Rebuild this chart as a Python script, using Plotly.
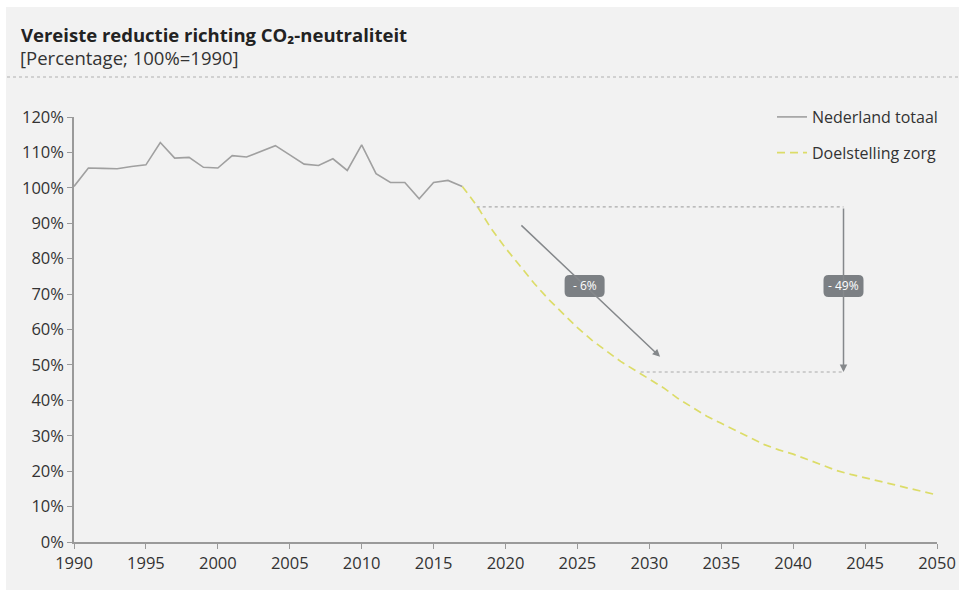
import plotly.graph_objects as go

years_hist = list(range(1990, 2018))
nl_totaal = [100.4, 105.6, 105.5, 105.4, 106.0, 106.5, 112.8, 108.4, 108.6, 105.8,
             105.6, 109.1, 108.7, 110.3, 111.9, 109.3, 106.7, 106.3, 108.2, 104.9,
             112.1, 104.0, 101.5, 101.5, 96.9, 101.5, 102.1, 100.4]

years_target = list(range(2017, 2051))
doel_zorg = [100.4, 95.0, 88.5, 83.0, 78.0, 73.0, 68.5, 64.5, 60.5, 57.0,
             54.0, 51.0, 48.5, 46.0, 43.5, 40.5, 38.0, 35.5, 33.5, 31.5,
             29.5, 27.5, 26.0, 24.8, 23.3, 21.7, 20.2, 19.1, 18.2, 17.2,
             16.2, 15.2, 14.3, 13.3]

x_ticks = list(range(1990, 2051, 5))
y_ticks = list(range(0, 121, 10))
y_tick_labels = [f"{v}%" for v in y_ticks]

# annotation values
start_level = 94.6
end_level = 48.0
start_year = 2018.0
end_year = 2029.4
bracket_year = 2043.5
diag_start = (2021.0, 89.8)
diag_end = (2030.75, 52.3)
labels = [("- 6%", 2025.5, 72.3), ("- 49%", bracket_year, 72.3)]

FONT = "Open Sans"
TXT = "#333333"
AX = "#9a9a9a"
BOX = "#7c8084"

fig = go.Figure()
fig.add_trace(go.Scatter(x=years_hist, y=nl_totaal, mode="lines", name="Nederland totaal",
                         legendgroup="a", line=dict(color="#a0a0a0", width=1.6)))
fig.add_trace(go.Scatter(x=years_target, y=doel_zorg, mode="lines", name="Doelstelling zorg",
                         legendgroup="b", line=dict(color="#dcdc68", width=1.7, dash="8px,5px")))

W, H = 966, 594
L, R, T, B = 74, 29, 117, 52
pw, ph = W - L - R, H - T - B

def px(xp):
    return (xp - L) / pw

def py(yp):
    return (H - B - yp) / ph

def rounded_rect(w, h, r):
    x0, x1, y0, y1 = -w / 2, w / 2, -h / 2, h / 2
    return (f"M{x0 + r},{y0} L{x1 - r},{y0} Q{x1},{y0} {x1},{y0 + r} "
            f"L{x1},{y1 - r} Q{x1},{y1} {x1 - r},{y1} L{x0 + r},{y1} "
            f"Q{x0},{y1} {x0},{y1 - r} L{x0},{y0 + r} Q{x0},{y0} {x0 + r},{y0} Z")

shapes = [
    dict(type="rect", xref="paper", yref="paper", x0=px(6), x1=px(959), y0=py(590), y1=py(7),
         fillcolor="#f2f2f2", line=dict(width=0), layer="below"),
    dict(type="line", xref="paper", yref="paper", x0=px(7), x1=px(958), y0=py(77), y1=py(77),
         line=dict(color="#b0b0b0", width=1, dash="dot")),
    dict(type="line", xref="x", yref="y", x0=start_year, x1=bracket_year, y0=start_level, y1=start_level,
         line=dict(color="#aaaaaa", width=1.2, dash="dot")),
    dict(type="line", xref="x", yref="y", x0=end_year, x1=bracket_year, y0=end_level, y1=end_level,
         line=dict(color="#aaaaaa", width=1.2, dash="dot")),
]

annotations = [
    dict(xref="paper", yref="paper", x=px(19), y=py(34), xanchor="left", yanchor="middle",
         text="<b>Vereiste reductie richting CO₂-neutraliteit</b>", showarrow=False,
         font=dict(family=FONT, size=18.5, color="#222222")),
    dict(xref="paper", yref="paper", x=px(18), y=py(58), xanchor="left", yanchor="middle",
         text="[Percentage; 100%=1990]", showarrow=False,
         font=dict(family=FONT, size=18.5, color="#333333")),
    dict(x=bracket_year, y=end_level, ax=bracket_year, ay=start_level, xref="x", yref="y",
         axref="x", ayref="y", showarrow=True, arrowhead=2, arrowsize=1, arrowwidth=1.5,
         arrowcolor="#85888b", text=""),
    dict(x=diag_end[0], y=diag_end[1], ax=diag_start[0], ay=diag_start[1], xref="x", yref="y",
         axref="x", ayref="y", showarrow=True, arrowhead=2, arrowsize=1, arrowwidth=1.5,
         arrowcolor="#85888b", text=""),
]

for txt, lx, ly in labels:
    shapes.append(dict(type="path", xref="x", yref="y", xsizemode="pixel", ysizemode="pixel",
                       xanchor=lx, yanchor=ly, path=rounded_rect(40, 22, 5),
                       fillcolor=BOX, line=dict(width=0), layer="above"))
    annotations.append(dict(x=lx, y=ly, xref="x", yref="y", text=txt, showarrow=False,
                            font=dict(family=FONT, size=12, color="white")))

fig.update_layout(
    width=W, height=H,
    margin=dict(l=L, r=R, t=T, b=B, autoexpand=False),
    paper_bgcolor="white", plot_bgcolor="rgba(0,0,0,0)",
    font=dict(family=FONT, size=16, color=TXT),
    shapes=shapes, annotations=annotations,
    legend=dict(x=px(772), y=py(100), xanchor="left", yanchor="top",
                bgcolor="rgba(0,0,0,0)", font=dict(family=FONT, size=16, color=TXT),
                tracegroupgap=12),
    showlegend=True,
)
fig.update_xaxes(range=[1990, 2050], tickvals=x_ticks, showgrid=False, zeroline=False,
                 showline=True, linecolor=AX, linewidth=1.5, ticks="outside", ticklen=5,
                 tickcolor=AX, tickfont=dict(family=FONT, size=16.5, color=TXT), automargin=False)
fig.update_yaxes(range=[0, 120], tickvals=y_ticks, ticktext=y_tick_labels, showgrid=False,
                 zeroline=False, showline=True, linecolor=AX, linewidth=1.5, ticks="outside",
                 ticklen=5, tickcolor=AX, tickfont=dict(family=FONT, size=16.5, color=TXT),
                 automargin=False)

fig.write_html("out.html")
